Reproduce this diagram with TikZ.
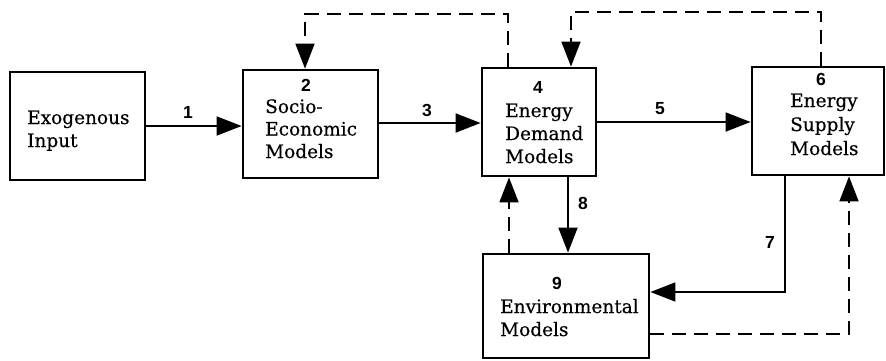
\documentclass[tikz,border=0pt]{standalone}
\usepackage{fontspec}
\setmainfont{DejaVu Serif}[FakeBold=0.4]
\newfontfamily\numfont{Liberation Sans}
\usetikzlibrary{arrows.meta}
\begin{document}
\begin{tikzpicture}[x=1pt,y=-1pt,
  box/.style={draw, line width=2.8pt, inner sep=0pt},
  % multi-line texts are placed by the baseline of their last line
  txt/.style={anchor=base west, align=left, inner sep=0pt,
    font=\fontsize{18.5}{23}\selectfont},
  num/.style={inner sep=0pt, font=\numfont\bfseries\fontsize{17.5}{17.5}\selectfont},
  tip/.style={-{Triangle[length=25pt,width=19pt]}},
  flow/.style={tip, line width=1.8pt},
  fb/.style={tip, line width=1.8pt, dash pattern=on 14pt off 8pt}]
\useasboundingbox (0,0) rectangle (886,360);

% model blocks
\node[box, minimum width=135pt, minimum height=108pt] (exo) at (77.5,126) {};
\node[box, minimum width=135pt, minimum height=108pt] (soc) at (310.5,124) {};
\node[box, minimum width=114pt, minimum height=108pt] (dem) at (539,122) {};
\node[box, minimum width=132pt, minimum height=108pt] (sup) at (818,121) {};
\node[box, minimum width=166pt, minimum height=104pt] (env) at (566,306) {};

% block texts
\node[txt] (exoT) at (27,147) {Exogenous\\Input};
\node[txt, font=\fontsize{18.5}{22.5}\selectfont] (socT) at (265,158) {Socio-\\Economic\\Models};
\node[txt] (demT) at (505,163) {Energy\\Demand\\Models};
\node[txt, font=\fontsize{18.5}{24}\selectfont] (supT) at (790,155) {Energy\\Supply\\Models};
\node[txt] (envT) at (500,336) {Environmental\\Models};

% block numbers
\node[num] (n2) at (306,85.5) {2};
\node[num] (n4) at (538,87) {4};
\node[num] (n6) at (821,79) {6};
\node[num] (n9) at (557,283) {9};

% main flows
\coordinate (c3) at (0,123);
\draw[flow] (exo.east) -- (exo.east -| soc.west);
\draw[flow] (c3 -| soc.east) -- (c3 -| dem.west);
\draw[flow] (dem.east) -- (dem.east -| sup.west);
\coordinate (c8) at (568,0);
\draw[flow] (c8 |- dem.south) -- (c8 |- env.north);
\coordinate (c7) at (785,292);
\draw[flow] (c7 |- sup.south) -- (c7) -- (c7 -| env.east);

% feedback flows
\coordinate (fbA) at (305,14);
\coordinate (fbB) at (508,14);
\draw[fb] (fbB |- dem.north) -- (fbB) -- (fbA) -- (fbA |- soc.north);
\coordinate (fbC) at (571,12);
\coordinate (fbD) at (821,12);
\draw[fb] (fbD |- sup.north) -- (fbD) -- (fbC) -- (fbC |- dem.north);
\coordinate (c9) at (509,0);
\draw[fb] (c9 |- env.north) -- (c9 |- dem.south);
\coordinate (c10) at (849,334);
\draw[fb] (c10 -| env.east) -- (c10) -- (c10 |- sup.south);

% flow numbers
\node[num] (l1) at (188,112) {1};
\node[num] (l3) at (427,110) {3};
\node[num] (l5) at (660,109) {5};
\node[num] (l8) at (583,203) {8};
\node[num] (l7) at (770,242) {7};
\end{tikzpicture}
\end{document}
